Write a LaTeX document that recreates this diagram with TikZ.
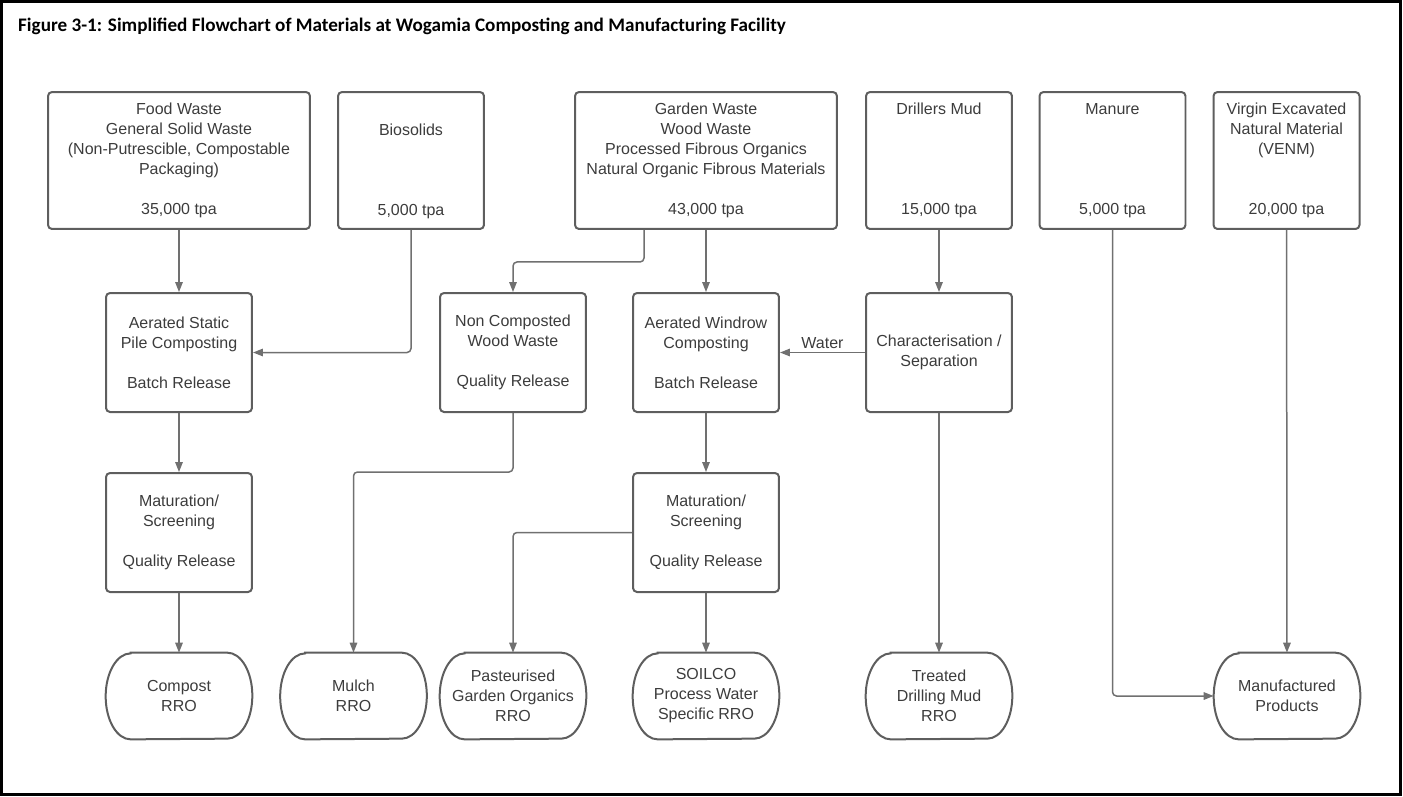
\documentclass[tikz,border=0pt]{standalone}
\usepackage{fontspec}
\setmainfont{Liberation Sans}
\newfontfamily\titrefont{Carlito}
\usepackage{xcolor}
\usetikzlibrary{arrows,arrows.meta}

\definecolor{bordgris}{HTML}{5E5E5E}
\definecolor{fleche}{HTML}{707070}
\definecolor{texte}{HTML}{3C3C3C}

\tikzset{
  every node/.style={font=\fontsize{9.1}{11.4}\selectfont, text=texte},
  entree/.style={draw=bordgris, line width=0.04cm, rounded corners=0.08cm,
    minimum height=2.74cm, align=center, inner sep=0pt},
  entreelarge/.style={entree, minimum width=5.24cm},
  entreeetroite/.style={entree, minimum width=2.92cm},
  procede/.style={draw=bordgris, line width=0.04cm, rounded corners=0.08cm,
    minimum width=2.92cm, minimum height=2.38cm, align=center, inner sep=0pt},
  produit/.style={minimum width=2.92cm, minimum height=1.72cm, align=center, inner sep=0pt},
  flux/.style={draw=fleche, line width=0.03cm, -{Triangle[length=0.2cm,width=0.15cm]}, rounded corners=0.08cm},
}

\begin{document}
\begin{tikzpicture}[x=0.02cm, y=-0.02cm]
                \useasboundingbox (0,0) rectangle (1403,796);
                \draw[line width=0.06cm] (1.5,1.5) rectangle (1400,794.5);

                % Titre
                \node[anchor=base west, text=black, font=\titrefont\bfseries\fontsize{10.9}{12}\selectfont] (titre) at (12,31)
                    {Figure 3-1: Simplified Flowchart of Materials at Wogamia Composting and Manufacturing Facility};

                % Matieres entrantes
                \node[entreelarge] (food) at (179,160.5) {Food Waste\\General Solid Waste\\(Non-Putrescible, Compostable\\Packaging)\\[11.4pt]35,000 tpa};
                \node[entreeetroite] (bios) at (411,160.5) {\strut\\Biosolids\\[34.2pt]5,000 tpa};
                \node[entreelarge] (garden) at (706,160.5) {Garden Waste\\Wood Waste\\Processed Fibrous Organics\\Natural Organic Fibrous Materials\\[11.4pt]43,000 tpa};
                \node[entreeetroite] (drill) at (939,160.5) {Drillers Mud\\[45.6pt]15,000 tpa};
                \node[entreeetroite] (manure) at (1112.5,160.5) {Manure\\[45.6pt]5,000 tpa};
                \node[entreeetroite] (venm) at (1286.5,160.5) {Virgin Excavated\\Natural Material\\(VENM)\\[22.8pt]20,000 tpa};

                % Procedes
                \node[procede] (asp) at (179,352.5) {Aerated Static\\Pile Composting\\[11.4pt]Batch Release};
                \node[procede] (noncomp) at (513,352.5) {Non Composted\\Wood Waste\\[11.4pt]Quality Release};
                \node[procede] (awc) at (706,352.5) {Aerated Windrow\\Composting\\[11.4pt]Batch Release};
                \node[procede] (char) at (939,352.5) {Characterisation /\\Separation};
                \node[procede] (matA) at (179,532.5) {Maturation/\\Screening\\[11.4pt]Quality Release};
                \node[procede] (matB) at (706,532.5) {Maturation/\\Screening\\[11.4pt]Quality Release};

                % Produits
                \node[produit] (compost) at (179,696) {Compost\\RRO};
                \node[produit] (mulch) at (353.5,696) {Mulch\\RRO};
                \node[produit] (past) at (513,696) {Pasteurised\\Garden Organics\\RRO};
                \node[produit] (soilco) at (706,696) {SOILCO\\Process Water\\Specific RRO};
                \node[produit] (treated) at (939,696) {Treated\\Drilling Mud\\RRO};
                \node[produit] (manuf) at (1287,696) {Manufactured\\Products};
                \foreach \p in {compost,mulch,past,soilco,treated,manuf} {
                    \draw[draw=bordgris, line width=0.04cm]
                        ([xshift=0.5cm]\p.north west) -- ([xshift=-0.5cm]\p.north east)
                        arc[start angle=90, end angle=-90, x radius=0.5cm, y radius=0.86cm]
                        -- ([xshift=0.5cm]\p.south west)
                        arc[start angle=270, end angle=90, x radius=0.5cm, y radius=0.86cm] -- cycle;
                }

                % Fleches
                \draw[flux] (food) -- (asp);
                \draw[flux] (bios.south) |- (asp.east);
                \draw[flux] ([xshift=-1.24cm]garden.south) -- ++(0,32) -| (noncomp.north);
                \draw[flux] (garden) -- (awc);
                \draw[flux] (drill) -- (char);
                \draw[flux] (char) -- node[above, inner sep=2pt] (eau) {Water} (awc);
                \draw[flux] (asp) -- (matA);
                \draw[flux] (matA) -- (compost);
                \draw[flux] (noncomp.south) -- ++(0,59) -| (mulch.north);
                \draw[flux] (awc) -- (matB);
                \draw[flux] (matB.west) -| (past.north);
                \draw[flux] (matB) -- (soilco);
                \draw[flux] (char) -- (treated);
                \draw[flux] (manure.south) |- (manuf.west);
                \draw[flux] (venm) -- (manuf);
\end{tikzpicture}
\end{document}
